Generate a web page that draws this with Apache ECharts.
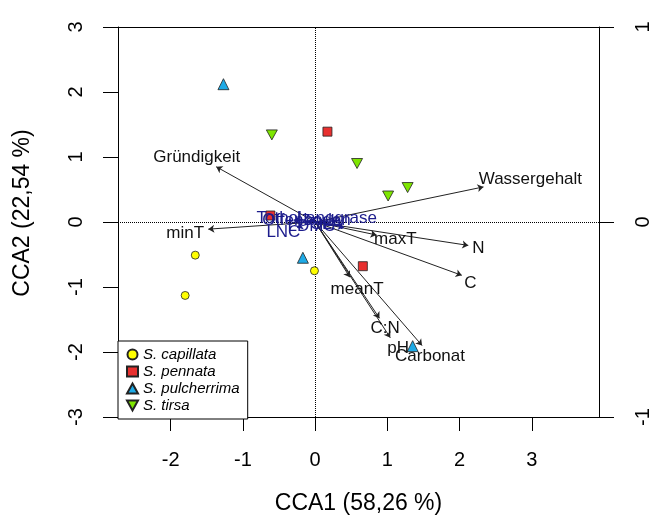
<!DOCTYPE html>
<html><head><meta charset="utf-8">
<script src="https://cdn.jsdelivr.net/npm/echarts@6/dist/echarts.min.js"></script>
<style>html,body{margin:0;padding:0;background:#fff}#c{width:650px;height:519px}</style>
</head><body><div id="c"></div>
<script>
// Site scores (CCA1, CCA2) by species
const capillata = [[-1.66,-0.51],[-1.80,-1.13],[-0.01,-0.75]];
const pennata = [[0.17,1.39],[-0.62,0.10],[0.66,-0.68]];
const pulcherrima = [[-1.27,2.12],[-0.17,-0.55],[1.35,-1.91]];
const tirsa = [[-0.60,1.34],[0.58,0.90],[1.01,0.40],[1.28,0.53]];
const speciesNames = ['S. capillata','S. pennata','S. pulcherrima','S. tirsa'];

// Environmental vectors: arrow tips and label anchors
const envNames = ['Gründigkeit','Wassergehalt','minT','maxT','N','C','meanT','C:N','pH','Carbonat'];
const envTips = [[-1.37,0.85],[2.33,0.54],[-1.48,-0.11],[0.85,-0.20],[2.12,-0.36],[2.03,-0.82],[0.48,-0.85],[0.89,-1.48],[1.04,-1.78],[1.48,-1.90]];
const envLabelPos = [[-1.64,0.99],[2.98,0.66],[-1.80,-0.17],[1.11,-0.26],[2.26,-0.40],[2.15,-0.94],[0.58,-1.04],[0.97,-1.64],[1.15,-1.95],[1.59,-2.07]];

// Crowded (near-origin) factor vectors in navy
const navyNames = ['Totholz','Offenboden','Langgrase','LDMC','SLA','LNC'];
const navyTips = [[-0.30,0.03],[-0.10,0.02],[0.30,0.02],[0.20,-0.04],[0.40,-0.08],[-0.25,-0.08]];
const navyLabelPos = [[-0.44,0.06],[-0.12,0.03],[0.30,0.05],[-0.05,-0.06],[0.16,-0.03],[-0.44,-0.16]];

const xTicks = [-2,-1,0,1,2,3];
const FONT = 'Liberation Sans, Arial, sans-serif';

const chart = echarts.init(document.getElementById('c'));
const ptStyle = (c)=>({color:c,borderColor:'#222',borderWidth:0.8,opacity:1});
const downTri = 'path://M0,0L10,0L5,9Z';

function labelSeries(names,pos,color){
  return {type:'scatter',symbol:'circle',symbolSize:1,silent:true,z:6,
    data:names.map((n,i)=>({name:n,value:pos[i]})),
    label:{show:true,position:'inside',formatter:'{b}',color:color,fontSize:17,fontFamily:FONT,opacity:1},
    itemStyle:{color:'rgba(0,0,0,0)',borderWidth:0}};
}
function arrowSeries(tips,color){
  return {type:'lines',coordinateSystem:'cartesian2d',silent:true,z:4,
    symbol:['none','arrow'],symbolSize:6,
    lineStyle:{color:color,width:1,opacity:1},
    data:tips.map(t=>({coords:[[0,0],t]}))};
}

chart.setOption({
  animation:false,
  backgroundColor:'#fff',
  textStyle:{fontFamily:FONT},
  grid:{left:118,right:51,top:27,bottom:102,containLabel:false,outerBoundsMode:'none'},
  legend:{
    orient:'vertical',left:118,top:341,
    data:speciesNames,
    borderColor:'#000',borderWidth:1,borderRadius:0,
    padding:[6,8,6,8],itemGap:2,itemWidth:11,itemHeight:10,
    backgroundColor:'#fff',
    textStyle:{fontStyle:'italic',fontSize:15,color:'#000',fontFamily:FONT}
  },
  xAxis:[{
    type:'value',position:'bottom',min:-2.73,max:3.93,
    axisLine:{show:true,onZero:false,lineStyle:{color:'#000',width:1}},
    axisTick:{show:true,length:14,customValues:xTicks,lineStyle:{color:'#000'}},
    axisLabel:{show:true,customValues:xTicks,margin:33,fontSize:20,color:'#000',fontFamily:FONT},
    splitLine:{show:false},
    name:'CCA1 (58,26 %)',nameLocation:'middle',nameGap:75,
    nameTextStyle:{fontSize:23,color:'#000',fontFamily:FONT}
  },{
    type:'value',position:'top',min:-2.73,max:3.93,
    axisLine:{show:true,onZero:false,lineStyle:{color:'#000',width:1}},
    axisTick:{show:false},axisLabel:{show:false},splitLine:{show:false}
  }],
  yAxis:[{
    type:'value',position:'left',min:-3,max:3,interval:1,
    axisLine:{show:true,onZero:false,lineStyle:{color:'#000',width:1}},
    axisTick:{show:true,length:15,lineStyle:{color:'#000'}},
    axisLabel:{rotate:90,margin:32,fontSize:20,color:'#000',fontFamily:FONT},
    splitLine:{show:false},
    name:'CCA2 (22,54 %)',nameLocation:'middle',nameGap:84,
    nameTextStyle:{fontSize:23,color:'#000',fontFamily:FONT,padding:[0,0,0,18]}
  },{
    type:'value',position:'right',min:-1,max:1,interval:1,
    axisLine:{show:true,onZero:false,lineStyle:{color:'#000',width:1}},
    axisTick:{show:true,length:15,lineStyle:{color:'#000'}},
    axisLabel:{rotate:90,margin:34,fontSize:20,color:'#000',fontFamily:FONT},
    splitLine:{show:false}
  }],
  series:[
    {type:'scatter',name:'zero',data:[],silent:true,
      markLine:{silent:true,symbol:['none','none'],label:{show:false},
        lineStyle:{type:'dotted',color:'#000',width:1},
        data:[{xAxis:0},{yAxis:0}]}},
    arrowSeries(envTips,'#222'),
    arrowSeries(navyTips,'#1c1c8c'),
    {type:'scatter',name:speciesNames[0],data:capillata,symbol:'circle',symbolSize:8,itemStyle:ptStyle('#ffff00'),z:5},
    {type:'scatter',name:speciesNames[1],data:pennata,symbol:'rect',symbolSize:9,itemStyle:ptStyle('#e8302f'),z:5},
    {type:'scatter',name:speciesNames[2],data:pulcherrima,symbol:'triangle',symbolSize:11,itemStyle:ptStyle('#1eaae6'),z:5},
    {type:'scatter',name:speciesNames[3],data:tirsa,symbol:downTri,symbolSize:[11,10],itemStyle:ptStyle('#7ee600'),z:5},
    labelSeries(envNames,envLabelPos,'#111'),
    labelSeries(navyNames,navyLabelPos,'#1c1c8c')
  ]
});
</script></body></html>
